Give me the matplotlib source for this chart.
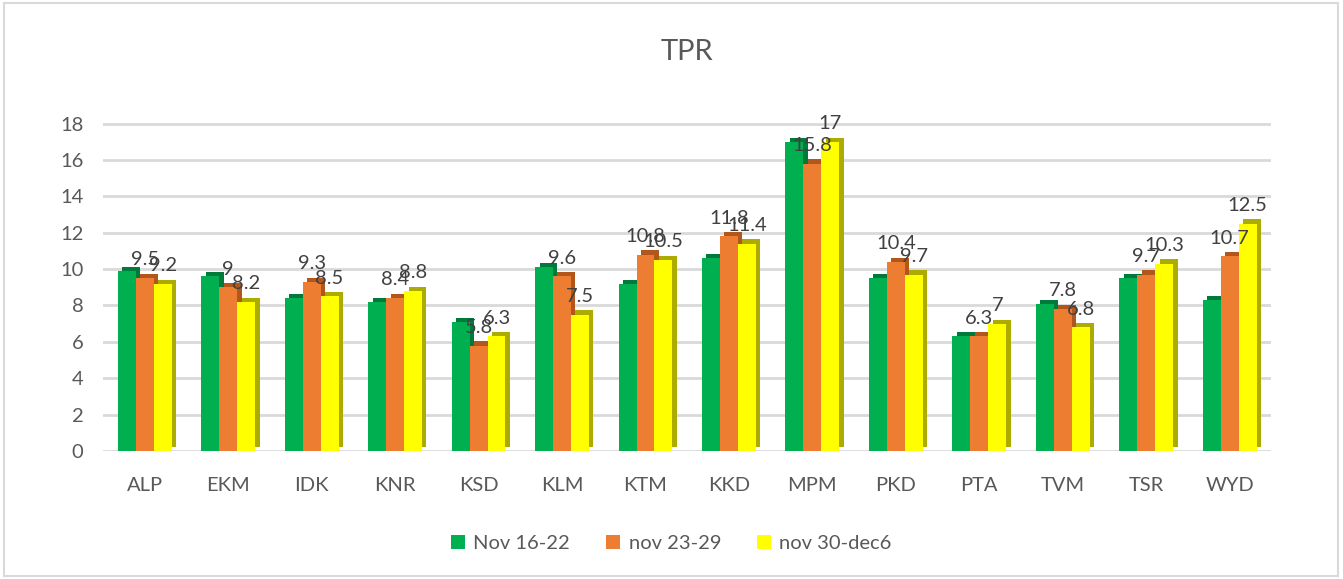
import numpy as np
import matplotlib
matplotlib.use('Agg')
import matplotlib.pyplot as plt
import matplotlib.patheffects as pe
from matplotlib.patches import Rectangle, Patch

plt.rcParams['font.family'] = ['Lato', 'DejaVu Sans']

# Dane
districts = ['ALP', 'EKM', 'IDK', 'KNR', 'KSD', 'KLM', 'KTM', 'KKD',
             'MPM', 'PKD', 'PTA', 'TVM', 'TSR', 'WYD']
series_names = ['Nov 16-22', 'nov 23-29', 'nov 30-dec6']
nov16_22 = [9.9, 9.6, 8.4, 8.2, 7.1, 10.1, 9.2, 10.6, 17.0, 9.5, 6.3, 8.1, 9.5, 8.3]
nov23_29 = [9.5, 9.0, 9.3, 8.4, 5.8, 9.6, 10.8, 11.8, 15.8, 10.4, 6.3, 7.8, 9.7, 10.7]
nov30_dec6 = [9.2, 8.2, 8.5, 8.8, 6.3, 7.5, 10.5, 11.4, 17.0, 9.7, 7.0, 6.8, 10.3, 12.5]
yticks = [0, 2, 4, 6, 8, 10, 12, 14, 16, 18]

colors = ['#00B050', '#ED7D31', '#FFFF00']
side_colors = ['#007A3A', '#B2561C', '#ABAB00']
labelled = [False, True, True]

fig = plt.figure(figsize=(13.43, 5.79), dpi=100)
ax = fig.add_axes([0.0767, 0.221, 0.870, 0.597])

x = np.arange(len(districts))
w = 0.215
all_series = [nov16_22, nov23_29, nov30_dec6]

for i, vals in enumerate(all_series):
    pos = x + (i - 1) * w
    bars = ax.bar(pos, vals, width=w, color=colors[i],
                  zorder=3 + i * 0.1, linewidth=0)
    for b in bars:
        b.set_path_effects([
            pe.SimplePatchShadow(offset=(3.2, 3.0), shadow_rgbFace=side_colors[i], alpha=1.0),
            pe.Normal(),
        ])
    if labelled[i]:
        for xp, v in zip(pos, vals):
            ax.annotate(f'{v:g}', (xp, v), xytext=(0, 7), textcoords='offset points',
                        ha='center', va='bottom', fontsize=14.5, color='#404040', zorder=10)

ax.set_xlim(-0.5, len(districts) - 0.5)
ax.set_ylim(0, 19)
ax.set_yticks(yticks)
ax.set_xticks(x)
ax.set_xticklabels(districts)
ax.tick_params(axis='both', length=0, labelsize=14.5, labelcolor='#595959')
ax.tick_params(axis='x', pad=19)
ax.tick_params(axis='y', pad=14)
for y in yticks:
    ax.axhline(y, color='#D9D9D9', lw=2, zorder=1)
for s in ax.spines.values():
    s.set_visible(False)

ax.set_title('TPR', fontsize=21, color='#595959', pad=33)

handles = [Patch(facecolor=c, edgecolor='none') for c in colors]
leg = fig.legend(handles, series_names, loc='center', bbox_to_anchor=(0.5, 0.062), ncol=3,
                 frameon=False, fontsize=14.5, handlelength=0.7, handleheight=0.7,
                 columnspacing=1.8, handletextpad=0.4)
for t in leg.get_texts():
    t.set_color('#595959')

fig.patches.append(Rectangle((0.003, 0.005), 0.993, 0.99, transform=fig.transFigure,
                             fill=False, edgecolor='#D9D9D9', lw=1.5))

fig.savefig('out.png', dpi=100)
